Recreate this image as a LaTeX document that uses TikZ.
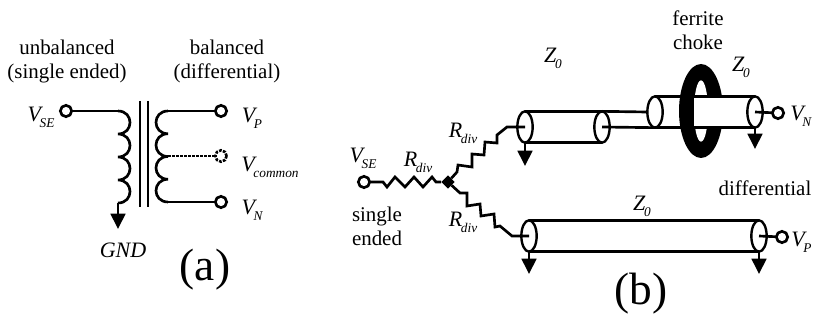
\documentclass[tikz,border=0pt]{standalone}
\usepackage{fontspec}
\setmainfont{Liberation Serif}
\usetikzlibrary{shapes,arrows,arrows.meta}
\tikzstyle{wire} = [line width=2pt, line join=miter]
\tikzstyle{terminal} = [circle, draw=black, fill=white, line width=2pt, minimum size=8.5pt, inner sep=0pt, outer sep=0pt]
\tikzstyle{coax} = [ellipse, draw=black, fill=white, line width=1.8pt, minimum width=11.5pt, minimum height=23.5pt, inner sep=0pt, outer sep=0pt]
\tikzstyle{ground} = [wire, -{Triangle[width=11pt,length=11.5pt]}]
\tikzstyle{txt} = [font=\fontsize{15.7}{18}\selectfont, inner sep=0pt, align=center]
\tikzstyle{big} = [font=\fontsize{34}{36}\selectfont, inner sep=0pt]
\tikzstyle{sym} = [font=\fontsize{16.5}{18}\selectfont\itshape, inner sep=0pt]
\newcommand{\sublbl}[2]{#1\kern-1pt\raisebox{-.6ex}{\fontsize{10}{11}\selectfont #2}}

\begin{document}
\begin{tikzpicture}[x=0.75pt,y=-0.75pt]
\useasboundingbox (0,0) rectangle (813,324);

% (a) transformer
\node (headLeft) [txt] at (67,61) {unbalanced\\(single ended)};
\node (headRight) [txt] at (227,61) {balanced\\(differential)};
\node (vseA) [terminal] at (66,111) {};
\node (vpA) [terminal] at (221,111) {};
\node (vcom) [terminal, densely dotted] at (221,156) {};
\node (vnA) [terminal] at (221,202) {};
\node (vseAlabel) [sym] at (41,117) {\sublbl{V}{SE}};
\node (vpAlabel) [sym] at (252,118) {\sublbl{V}{P}};
\node (vcomlabel) [sym] at (270,167) {\sublbl{V}{common}};
\node (vnAlabel) [sym] at (252,210) {\sublbl{V}{N}};
\node (gndlabel) [sym] at (123,250) {GND};
\node (a) [big] at (205,270) {(a)};

\coordinate (priTop) at (118,111);
\coordinate (priEnd) at (118,203);
\coordinate (priGnd) at (118,229);
\coordinate (secTop) at (168,111);
\coordinate (secMid) at (168,156);
\coordinate (secEnd) at (168,202);
\coordinate (coreA) at (140,101);
\coordinate (coreB) at (140,207);
\coordinate (coreC) at (148,101);
\coordinate (coreD) at (148,207);

\draw [wire] (vseA) -- (priTop);
\draw [wire] (priTop) \foreach \i in {1,...,4} { .. controls +(16,0) and +(16,0) .. ++(0,23) };
\draw [ground] (priEnd) -- (priGnd);
\draw [line width=1.6pt] (coreA) -- (coreB);
\draw [line width=1.6pt] (coreC) -- (coreD);
\draw [wire] (secTop) \foreach \i in {1,...,4} { .. controls +(-16,0) and +(-16,0) .. ++(0,22.75) };
\draw [wire] (secTop) -- (vpA);
\draw [wire, densely dotted] (secMid) -- (vcom);
\draw [wire] (secEnd) -- (vnA);

% (b) ferrite ring goes behind the cable
\node (ringOuter) [ellipse, fill=black, minimum width=33pt, minimum height=70.5pt, inner sep=0pt] at (701,111) {};
\node (ringHole) [ellipse, fill=white, minimum width=10.5pt, minimum height=46pt, inner sep=0pt] at (701,111) {};
\fill [white] (694,96) rectangle (755,127);

% (b) cables
\node (coaxA) [coax] at (525,127) {};
\node (coaxB) [coax] at (602,127) {};
\node (coaxC) [coax] at (655,112) {};
\node (coaxD) [coax] at (755,112) {};
\node (coaxE) [coax] at (529,236) {};
\node (coaxF) [coax] at (759,236) {};
\node (vseB) [terminal] at (364,182) {};
\node (vnB) [terminal] at (778,113) {};
\node (vpB) [terminal] at (782,237) {};
\node (junction) [diamond, fill=black, minimum size=10pt, inner sep=0pt] at (448,182) {};

\draw [wire] (coaxA.north) -- (coaxB.north);
\draw [wire] (coaxA.south) -- (coaxB.south);
\draw [wire] (coaxB.north) -- (coaxC.west);
\draw [wire] (coaxB.center) -- (coaxC.south);
\draw [wire] (coaxC.north) -- (coaxD.north);
\draw [wire] (coaxC.south) -- (coaxD.south);
\draw [wire] (coaxE.north) -- (coaxF.north);
\draw [wire] (coaxE.south) -- (coaxF.south);
\draw [wire] (coaxD.center) -- (vnB);
\draw [wire] (coaxF.center) -- (vpB);

\coordinate (gndA) at (525,166);
\coordinate (gndD) at (755,149);
\coordinate (gndE) at (529,274);
\coordinate (gndF) at (759,274);
\draw [ground] (coaxA.south) -- (gndA);
\draw [ground] (coaxD.south) -- (gndD);
\draw [ground] (coaxE.south) -- (gndE);
\draw [ground] (coaxF.south) -- (gndF);

% (b) resistors
\draw [wire] (vseB) -- (383,182) -- (387,187) -- (395,177) -- (405,187) -- (414,177) -- (423,187) -- (432,177) -- (436,182) -- (junction);
\draw [wire] (junction) -- (457,172) -- (458,165) -- (472,167) -- (472,154) -- (484,155) -- (485,142) -- (497,143) -- (497,135) -- (507,127) -- (coaxA.center);
\draw [wire] (junction) -- (460,193) -- (467,193) -- (467,206) -- (480,204) -- (481,216) -- (494,214) -- (495,227) -- (500,226) -- (512,236) -- (coaxE.center);

\node (rdivA) [sym] at (463,133) {\sublbl{R}{div}};
\node (rdivB) [sym] at (418,162) {\sublbl{R}{div}};
\node (rdivC) [sym] at (463,222) {\sublbl{R}{div}};
\node (vseBlabel) [sym] at (363,158) {\sublbl{V}{SE}};
\node (single) [txt] at (377,226) {single\\ended};
\node (zA) [sym] at (553,58) {\sublbl{Z}{0}};
\node (zB) [sym] at (741,67) {\sublbl{Z}{0}};
\node (zC) [sym] at (642,206) {\sublbl{Z}{0}};
\node (ferrite) [txt] at (698,30) {ferrite\\choke};
\node (differential) [txt] at (765,188) {differential};
\node (vnBlabel) [sym, anchor=west] at (790,116) {\sublbl{V}{N}};
\node (vpBlabel) [sym, anchor=west] at (791,242) {\sublbl{V}{P}};
\node (b) [big] at (641,294) {(b)};

\end{tikzpicture}
\end{document}
